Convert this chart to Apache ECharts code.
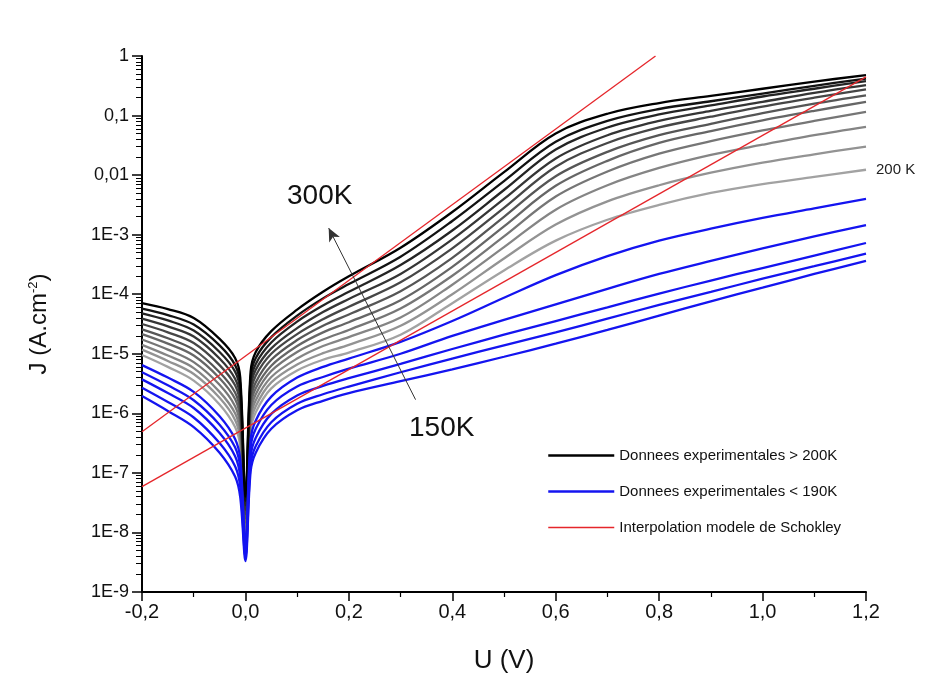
<!DOCTYPE html>
<html>
<head>
<meta charset="utf-8">
<script src="https://cdn.jsdelivr.net/npm/echarts@6/dist/echarts.min.js"></script>
<style>html,body{margin:0;padding:0;background:#fff;}#c{width:932px;height:689px;}</style>
</head>
<body>
<div id="c"></div>
<script>
// Voltage samples (V)
const U = [-0.2, -0.15, -0.1, -0.05, -0.02, -0.01, 0, 0.01, 0.02, 0.05, 0.1, 0.15, 0.2, 0.3, 0.4, 0.5, 0.6, 0.7, 0.8, 0.9, 1.0, 1.1, 1.2];

// log10 of J (A.cm^-2)
const logJ_300K = [-4.15,-4.25,-4.40,-4.75,-5.07,-5.40,-7.40,-5.30,-4.97,-4.62,-4.26,-3.96,-3.70,-3.22,-2.62,-1.95,-1.30,-0.97,-0.79,-0.67,-0.55,-0.43,-0.32];
const logJ_290K = [-4.24,-4.35,-4.51,-4.86,-5.19,-5.52,-7.47,-5.40,-5.07,-4.72,-4.36,-4.07,-3.83,-3.37,-2.77,-2.10,-1.44,-1.09,-0.89,-0.76,-0.63,-0.50,-0.38];
const logJ_280K = [-4.32,-4.44,-4.61,-4.97,-5.30,-5.63,-7.54,-5.50,-5.17,-4.81,-4.46,-4.19,-3.96,-3.51,-2.93,-2.25,-1.57,-1.20,-0.98,-0.83,-0.68,-0.55,-0.42];
const logJ_270K = [-4.41,-4.54,-4.71,-5.08,-5.42,-5.75,-7.62,-5.60,-5.27,-4.91,-4.57,-4.30,-4.08,-3.66,-3.08,-2.40,-1.72,-1.33,-1.09,-0.92,-0.77,-0.62,-0.49];
const logJ_260K = [-4.50,-4.64,-4.82,-5.19,-5.53,-5.87,-7.69,-5.70,-5.37,-5.00,-4.67,-4.42,-4.21,-3.80,-3.23,-2.55,-1.86,-1.46,-1.20,-1.02,-0.85,-0.70,-0.56];
const logJ_250K = [-4.59,-4.74,-4.93,-5.31,-5.65,-5.99,-7.76,-5.80,-5.48,-5.10,-4.77,-4.53,-4.34,-3.95,-3.39,-2.70,-2.02,-1.61,-1.33,-1.14,-0.96,-0.80,-0.66];
const logJ_240K = [-4.67,-4.83,-5.03,-5.41,-5.76,-6.10,-7.83,-5.90,-5.58,-5.20,-4.87,-4.64,-4.47,-4.10,-3.54,-2.86,-2.18,-1.76,-1.46,-1.26,-1.08,-0.92,-0.77];
const logJ_230K = [-4.76,-4.93,-5.14,-5.52,-5.88,-6.22,-7.90,-6.00,-5.68,-5.29,-4.97,-4.76,-4.60,-4.24,-3.69,-3.03,-2.36,-1.94,-1.64,-1.43,-1.25,-1.09,-0.94];
const logJ_220K = [-4.85,-5.03,-5.24,-5.64,-6.00,-6.34,-7.98,-6.10,-5.78,-5.39,-5.08,-4.87,-4.72,-4.39,-3.84,-3.21,-2.58,-2.17,-1.88,-1.66,-1.49,-1.33,-1.19];
const logJ_210K = [-4.93,-5.12,-5.34,-5.74,-6.11,-6.45,-8.05,-6.20,-5.88,-5.48,-5.18,-4.99,-4.85,-4.53,-4.00,-3.40,-2.83,-2.44,-2.17,-1.96,-1.79,-1.65,-1.52];
const logJ_200K = [-5.02,-5.22,-5.45,-5.85,-6.23,-6.57,-8.12,-6.30,-5.98,-5.58,-5.28,-5.10,-4.98,-4.68,-4.15,-3.60,-3.10,-2.75,-2.50,-2.30,-2.15,-2.03,-1.91];
const logJ_190K = [-5.19,-5.40,-5.64,-6.05,-6.43,-6.77,-8.19,-6.45,-6.12,-5.72,-5.40,-5.22,-5.08,-4.80,-4.45,-4.06,-3.68,-3.36,-3.10,-2.90,-2.72,-2.56,-2.40];
const logJ_180K = [-5.31,-5.53,-5.78,-6.19,-6.57,-6.92,-8.26,-6.58,-6.26,-5.86,-5.55,-5.39,-5.25,-5.00,-4.70,-4.43,-4.17,-3.91,-3.66,-3.44,-3.23,-3.03,-2.84];
const logJ_170K = [-5.43,-5.66,-5.91,-6.33,-6.72,-7.07,-8.34,-6.73,-6.41,-6.01,-5.70,-5.54,-5.41,-5.17,-4.92,-4.68,-4.45,-4.22,-3.99,-3.77,-3.56,-3.35,-3.14];
const logJ_160K = [-5.57,-5.81,-6.07,-6.50,-6.89,-7.24,-8.41,-6.87,-6.55,-6.15,-5.84,-5.68,-5.55,-5.31,-5.08,-4.86,-4.64,-4.41,-4.18,-3.96,-3.74,-3.53,-3.32];
const logJ_150K = [-5.71,-5.96,-6.23,-6.66,-7.06,-7.41,-8.48,-6.98,-6.66,-6.26,-5.95,-5.79,-5.66,-5.46,-5.26,-5.05,-4.83,-4.60,-4.36,-4.12,-3.89,-3.66,-3.44];

// Shockley model fits (two straight lines on log scale): endpoints
const fitA_U = [-0.2, 0.793];
const fitA_logJ = [-6.31, 0];
const fitB_U = [-0.2, 1.2];
const fitB_logJ = [-7.23, -0.35];

const grayCurves = [logJ_300K, logJ_290K, logJ_280K, logJ_270K, logJ_260K, logJ_250K, logJ_240K, logJ_230K, logJ_220K, logJ_210K, logJ_200K];
const blueCurves = [logJ_190K, logJ_180K, logJ_170K, logJ_160K, logJ_150K];
const grayColors = ['#000000','#121212','#242424','#353535','#464646','#565656','#666666','#767676','#858585','#939393','#a2a2a2'];

const yTickLabels = ['1E-9','1E-8','1E-7','1E-6','1E-5','1E-4','1E-3','0,01','0,1','1'];
const xTickLabels = ['-0,2','0,0','0,2','0,4','0,6','0,8','1,0','1,2'];

const NAME_HI = 'Donnees experimentales > 200K';
const NAME_LO = 'Donnees experimentales < 190K';
const NAME_FIT = 'Interpolation modele de Schokley';

function toPairs(xs, logs) { return xs.map((x, i) => [x, Math.pow(10, logs[i])]); }

const minorVals = [];
for (let e = -9; e < 0; e++) for (let m = 2; m <= 9; m++) minorVals.push(m * Math.pow(10, e));

const series = [];
// draw light gray first, black last (on top)
for (let k = grayCurves.length - 1; k >= 0; k--) {
  const s = {
    name: NAME_HI, type: 'line', symbol: 'none', smooth: 0.35,
    data: toPairs(U, grayCurves[k]),
    lineStyle: { color: grayColors[k], width: 2.3 }, itemStyle: { color: grayColors[k] },
    z: 2
  };
  if (k === grayCurves.length - 1) {
    s.endLabel = { show: true, formatter: '200 K', color: '#222', fontSize: 15, distance: 10, fontFamily: 'Liberation Sans, Arial, sans-serif' };
  }
  series.push(s);
}
for (let b = blueCurves.length - 1; b >= 0; b--) {
  series.push({
    name: NAME_LO, type: 'line', symbol: 'none', smooth: 0.35,
    data: toPairs(U, blueCurves[b]),
    lineStyle: { color: '#1414f0', width: 2.3 }, itemStyle: { color: '#1414f0' }, z: 3
  });
}
series.push({
  name: NAME_FIT, type: 'line', symbol: 'none', data: toPairs(fitA_U, fitA_logJ),
  lineStyle: { color: '#e5262b', width: 1.3 }, itemStyle: { color: '#e5262b' }, z: 4,
  markLine: {
    silent: true, symbol: ['none', 'arrow'], symbolSize: [9, 13],
    lineStyle: { color: '#333', width: 1, type: 'solid' }, label: { show: false },
    data: [[{ coord: [0.329, Math.pow(10, -5.77)] }, { coord: [0.161, Math.pow(10, -2.89)] }]]
  }
});
series.push({
  name: NAME_FIT, type: 'line', symbol: 'none', data: toPairs(fitB_U, fitB_logJ),
  lineStyle: { color: '#e5262b', width: 1.3 }, itemStyle: { color: '#e5262b' }, z: 4
});

const FONT = 'Liberation Sans, Arial, sans-serif';
const GRID = { left: 142, right: 66, top: 56, bottom: 97 };

const chart = echarts.init(document.getElementById('c'), null, { renderer: 'canvas' });
chart.setOption({
  animation: false,
  backgroundColor: '#fff',
  grid: [Object.assign({}, GRID), Object.assign({}, GRID)],
  legend: {
    orient: 'vertical', left: 542, top: 443, itemWidth: 66, itemHeight: 14, itemGap: 21,
    textStyle: { fontSize: 15, color: '#111', fontFamily: FONT },
    itemStyle: { opacity: 0 },
    data: [
      { name: NAME_HI, lineStyle: { color: '#000', width: 2.5 }, itemStyle: { opacity: 0 } },
      { name: NAME_LO, lineStyle: { color: '#1414f0', width: 2.5 }, itemStyle: { opacity: 0 } },
      { name: NAME_FIT, lineStyle: { color: '#e5262b', width: 1.3 }, itemStyle: { opacity: 0 } }
    ]
  },
  xAxis: [{
    gridIndex: 0,
    type: 'value', min: -0.2, max: 1.2, interval: 0.2,
    name: 'U (V)', nameLocation: 'middle', nameGap: 56,
    nameTextStyle: { fontSize: 26, color: '#111', fontFamily: FONT },
    axisLine: { show: true, onZero: false, lineStyle: { color: '#000', width: 2 } },
    axisTick: { show: true, length: 9, lineStyle: { color: '#000', width: 1.5 } },
    minorTick: { show: true, splitNumber: 2, length: 5, lineStyle: { color: '#000', width: 1.2 } },
    splitLine: { show: false },
    axisLabel: {
      fontSize: 20, color: '#111', margin: 10, fontFamily: FONT,
      formatter: v => xTickLabels[Math.round((v + 0.2) / 0.2)]
    }
  }, {
    gridIndex: 1, type: 'value', min: -0.2, max: 1.2, show: false
  }],
  yAxis: [{
    gridIndex: 0,
    type: 'log', logBase: 10, min: 1e-9, max: 1, interval: 1,
    name: '{a|J (A.cm}{s|-2}{a|)}', nameLocation: 'middle', nameGap: 90, nameRotate: 90,
    nameTextStyle: { rich: {
      a: { fontSize: 24, color: '#111', fontFamily: FONT },
      s: { fontSize: 13, color: '#111', fontFamily: FONT, verticalAlign: 'top', padding: [0, 0, 12, 0] }
    } },
    axisLine: { show: true, onZero: false, lineStyle: { color: '#000', width: 2 } },
    axisTick: { show: true, length: 10, lineStyle: { color: '#000', width: 1.5 } },
    splitLine: { show: false },
    axisLabel: {
      fontSize: 18, color: '#111', margin: 13, fontFamily: FONT,
      formatter: v => yTickLabels[Math.round(Math.log10(v)) + 9]
    }
  }, {
    gridIndex: 1,
    type: 'log', logBase: 10, min: 1e-9, max: 1, position: 'left',
    axisLine: { show: false, onZero: false },
    axisTick: { show: true, inside: false, length: 6, customValues: minorVals, lineStyle: { color: '#000', width: 1 } },
    axisLabel: { show: false },
    splitLine: { show: false }
  }],
  graphic: [
    { type: 'text', left: 287, top: 182, style: { text: '300K', fontSize: 28, fill: '#111', fontFamily: FONT } },
    { type: 'text', left: 409, top: 414, style: { text: '150K', fontSize: 28, fill: '#111', fontFamily: FONT } }
  ],
  series: series
});
</script>
</body>
</html>
